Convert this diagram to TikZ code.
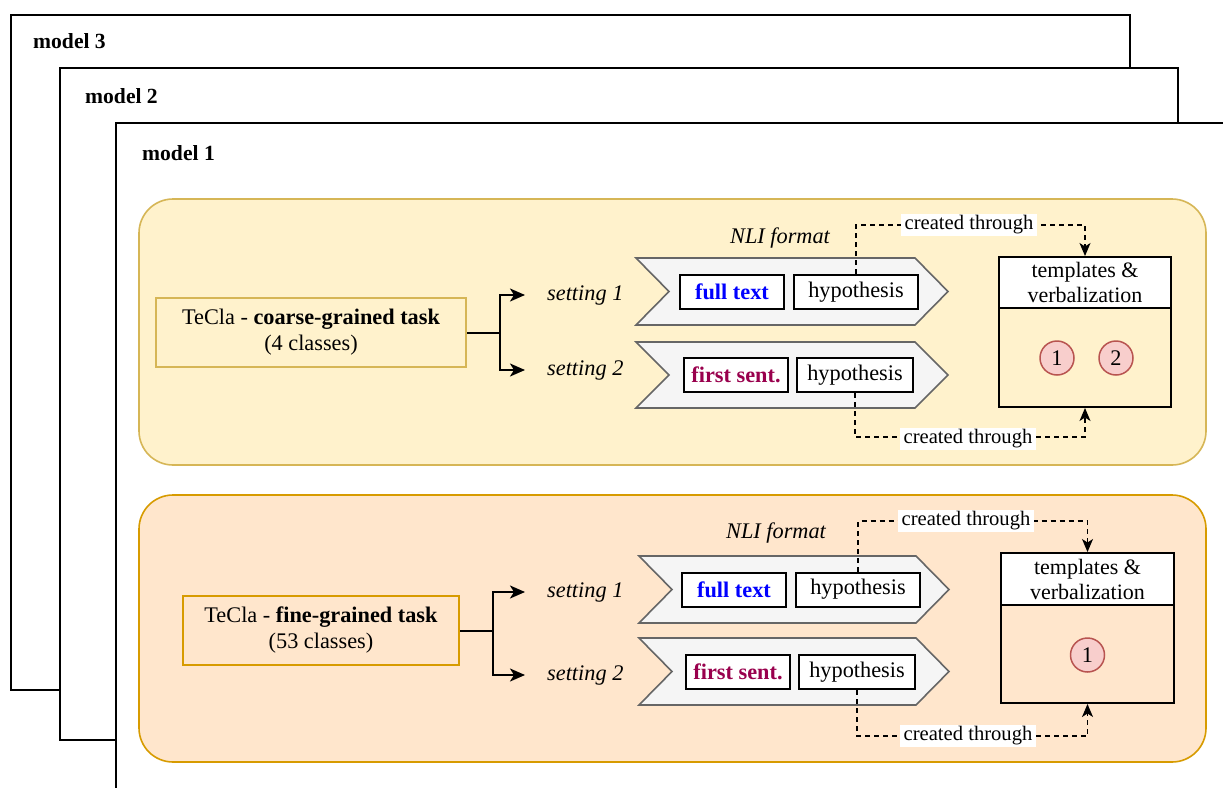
\documentclass[tikz,border=0pt]{standalone}
\usepackage{fontspec}
\setmainfont{Liberation Serif}
\usetikzlibrary{arrows.meta}
\definecolor{yelfill}{HTML}{FFF2CC}
\definecolor{yelline}{HTML}{D6B656}
\definecolor{orfill}{HTML}{FFE6CC}
\definecolor{orline}{HTML}{D79B00}
\definecolor{chevfill}{HTML}{F5F5F5}
\definecolor{chevline}{HTML}{666666}
\definecolor{redfill}{HTML}{F8CECC}
\definecolor{redline}{HTML}{B85450}
\definecolor{sentcol}{RGB}{153,0,77}
\begin{document}
\begin{tikzpicture}[x=1pt,y=-1pt,
  font=\fontsize{22.3}{26}\selectfont,
  frame/.style={draw=black, fill=white, line width=1.6pt},
  framelabel/.style={anchor=west, inner sep=0pt, font=\fontsize{21.6}{25}\selectfont\bfseries},
  panel/.style={rounded corners=34pt, line width=1.6pt},
  taskbox/.style={line width=2pt, align=center, inner sep=0pt, minimum height=69pt},
  chev/.style={draw=chevline, fill=chevfill, line width=1.6pt, line join=miter},
  inbox/.style={draw=black, fill=white, line width=2pt, inner sep=0pt, minimum height=34pt},
  settinglbl/.style={anchor=west, inner xsep=22pt, inner ysep=0pt, font=\fontsize{22.3}{26}\selectfont\itshape},
  nlilbl/.style={inner sep=0pt, font=\fontsize{22.3}{26}\selectfont\itshape},
  tmpl/.style={draw=black, line width=2pt, inner sep=0pt},
  tmplhead/.style={draw=black, fill=white, line width=2pt, inner sep=0pt, align=center, font=\fontsize{22}{25}\selectfont},
  numc/.style={circle, draw=redline, fill=redfill, line width=1.5pt, minimum size=34pt, inner sep=0pt},
  conn/.style={draw=black, line width=2pt, -{Stealth[length=15pt,width=13pt,inset=4pt]}},
  plain/.style={draw=black, line width=2pt},
  dashconn/.style={draw=black, line width=1.4pt, dash pattern=on 5pt off 4pt, -{Stealth[length=13pt,width=11pt,inset=3.5pt]}},
  created/.style={fill=white, inner xsep=4pt, inner ysep=2pt, font=\fontsize{20.6}{24}\selectfont},
  fulltxt/.style={text=blue, font=\fontsize{22.3}{26}\selectfont\bfseries},
  senttxt/.style={text=sentcol, font=\fontsize{22.3}{26}\selectfont\bfseries}
]
\useasboundingbox (0,0) rectangle (1223,787);
\clip (0,0) rectangle (1223,787);

% stacked model frames
\draw[frame] (11,15) rectangle (1130,690);
\node[framelabel] (m3) at (33,41) {model 3};
\draw[frame] (60,68) rectangle (1178,740);
\node[framelabel] (m2) at (85,96) {model 2};
\draw[frame] (116,123) rectangle (1260,820);
\node[framelabel] (m1) at (142,153) {model 1};

% ---------------- upper panel (coarse-grained) ----------------
\draw[panel, draw=yelline, fill=yelfill] (139,199) rectangle (1206,465);
\node[taskbox, draw=yelline, fill=yelfill, minimum width=310pt] (taskA) at (311,332.5)
  {TeCla - \textbf{coarse-grained task}\\(4 classes)};
\node[settinglbl] (sA1) at (525,295) {setting 1};
\node[settinglbl] (sA2) at (525,370) {setting 2};
\draw[plain] (taskA.east) -- (500,332.5) coordinate (brA);
\draw[conn] (brA) |- (sA1.west);
\draw[conn] (brA) |- (sA2.west);

\node[nlilbl] (nliA) at (780,238) {NLI format};
\draw[chev] (636,258) -- (915,258) -- (948,291.5) -- (915,325) -- (636,325) -- (669,291.5) -- cycle;
\draw[chev] (636,342) -- (915,342) -- (948,375) -- (915,408) -- (636,408) -- (669,375) -- cycle;
\node[inbox, minimum width=104pt, fulltxt] (ftA) at (732,292) {full text};
\node[inbox, minimum width=124pt] (hypA1) at (856,292) {hypothesis};
\node[inbox, minimum width=104pt, senttxt] (fsA) at (736,375) {first sent.};
\node[inbox, minimum width=116pt] (hypA2) at (855,375) {hypothesis};

\node[tmpl, fill=yelfill, minimum width=172pt, minimum height=150pt] (tmpA) at (1085,332) {};
\node[tmplhead, minimum width=172pt, minimum height=51pt, anchor=north] (tmpAh) at (tmpA.north) {templates \&\\verbalization};
\node[numc] (cA1) at (1057,358) {1};
\node[numc] (cA2) at (1116,358) {2};

\draw[dashconn] (hypA1.north) |- (1085,225) -- (tmpA.north);
\node[created] (crA1) at (969,225) {created through};
\draw[dashconn] (hypA2.south) |- (1085,437) -- (tmpA.south);
\node[created] (crA2) at (968,439) {created through};

% ---------------- lower panel (fine-grained) ----------------
\draw[panel, draw=orline, fill=orfill] (139,495) rectangle (1206,762);
\node[taskbox, draw=orline, fill=orfill, minimum width=276pt] (taskB) at (321,630.5)
  {TeCla - \textbf{fine-grained task}\\(53 classes)};
\node[settinglbl] (sB1) at (525,592) {setting 1};
\node[settinglbl] (sB2) at (525,675) {setting 2};
\draw[plain] (taskB.east) -- (493,630.5) coordinate (brB);
\draw[conn] (brB) |- (sB1.west);
\draw[conn] (brB) |- (sB2.west);

\node[nlilbl] (nliB) at (776,533) {NLI format};
\draw[chev] (639,556) -- (916,556) -- (949,589.5) -- (916,623) -- (639,623) -- (672,589.5) -- cycle;
\draw[chev] (639,638) -- (916,638) -- (949,671.5) -- (916,705) -- (639,705) -- (672,671.5) -- cycle;
\node[inbox, minimum width=104pt, fulltxt] (ftB) at (734,589.5) {full text};
\node[inbox, minimum width=124pt] (hypB1) at (858,589.5) {hypothesis};
\node[inbox, minimum width=104pt, senttxt] (fsB) at (738,672) {first sent.};
\node[inbox, minimum width=116pt] (hypB2) at (857,672) {hypothesis};

\node[tmpl, fill=orfill, minimum width=173pt, minimum height=150pt] (tmpB) at (1087.5,628) {};
\node[tmplhead, minimum width=173pt, minimum height=52pt, anchor=north] (tmpBh) at (tmpB.north) {templates \&\\verbalization};
\node[numc] (cB1) at (1087.5,655) {1};

\draw[dashconn] (hypB1.north) |- (1087.5,521) -- (tmpB.north);
\node[created] (crB1) at (966,521) {created through};
\draw[dashconn] (hypB2.south) |- (1087.5,736) -- (tmpB.south);
\node[created] (crB2) at (968,736) {created through};
\end{tikzpicture}
\end{document}
